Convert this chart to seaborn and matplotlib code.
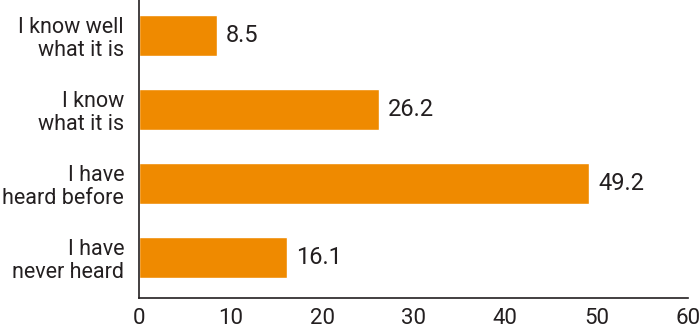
import matplotlib
matplotlib.use("Agg")
import matplotlib.pyplot as plt
import seaborn as sns
import pandas as pd

categories = ["I know well\nwhat it is", "I know\nwhat it is", "I have\nheard before", "I have\nnever heard"]
values = [8.5, 26.2, 49.2, 16.1]
x_ticks = [0, 10, 20, 30, 40, 50, 60]

sns.set_theme(style="white")
plt.rcParams["font.family"] = ["Roboto", "DejaVu Sans"]

df = pd.DataFrame({"category": categories, "value": values})

fig = plt.figure(figsize=(7, 3.3), dpi=100)
ax = fig.add_axes([0.199, 0.097, 0.784, 0.903])

sns.barplot(data=df, x="value", y="category", orient="h", color="#EF8A00",
            width=0.555, saturation=1, ax=ax)

text_color = "#231F20"
for i, v in enumerate(values):
    ax.text(v + 1.0, i, f"{v}", va="center", ha="left", fontsize=17,
            color=text_color)

ax.set_xlim(0, 60)
ax.set_ylim(3.547, -0.48)
ax.set_xticks(x_ticks)
ax.set_xticklabels([str(t) for t in x_ticks], fontsize=16, color=text_color)
ax.set_yticks(range(len(categories)))
ax.set_yticklabels(categories, fontsize=15.5, color=text_color, linespacing=1.15)
ax.tick_params(axis="y", length=0, pad=11)
ax.tick_params(axis="x", length=0, pad=7.5)
ax.set_xlabel("")
ax.set_ylabel("")

for side in ["top", "right"]:
    ax.spines[side].set_visible(False)
for side in ["left", "bottom"]:
    ax.spines[side].set_color("#231F20")
    ax.spines[side].set_linewidth(1.2)

fig.savefig("out.png", dpi=100)
